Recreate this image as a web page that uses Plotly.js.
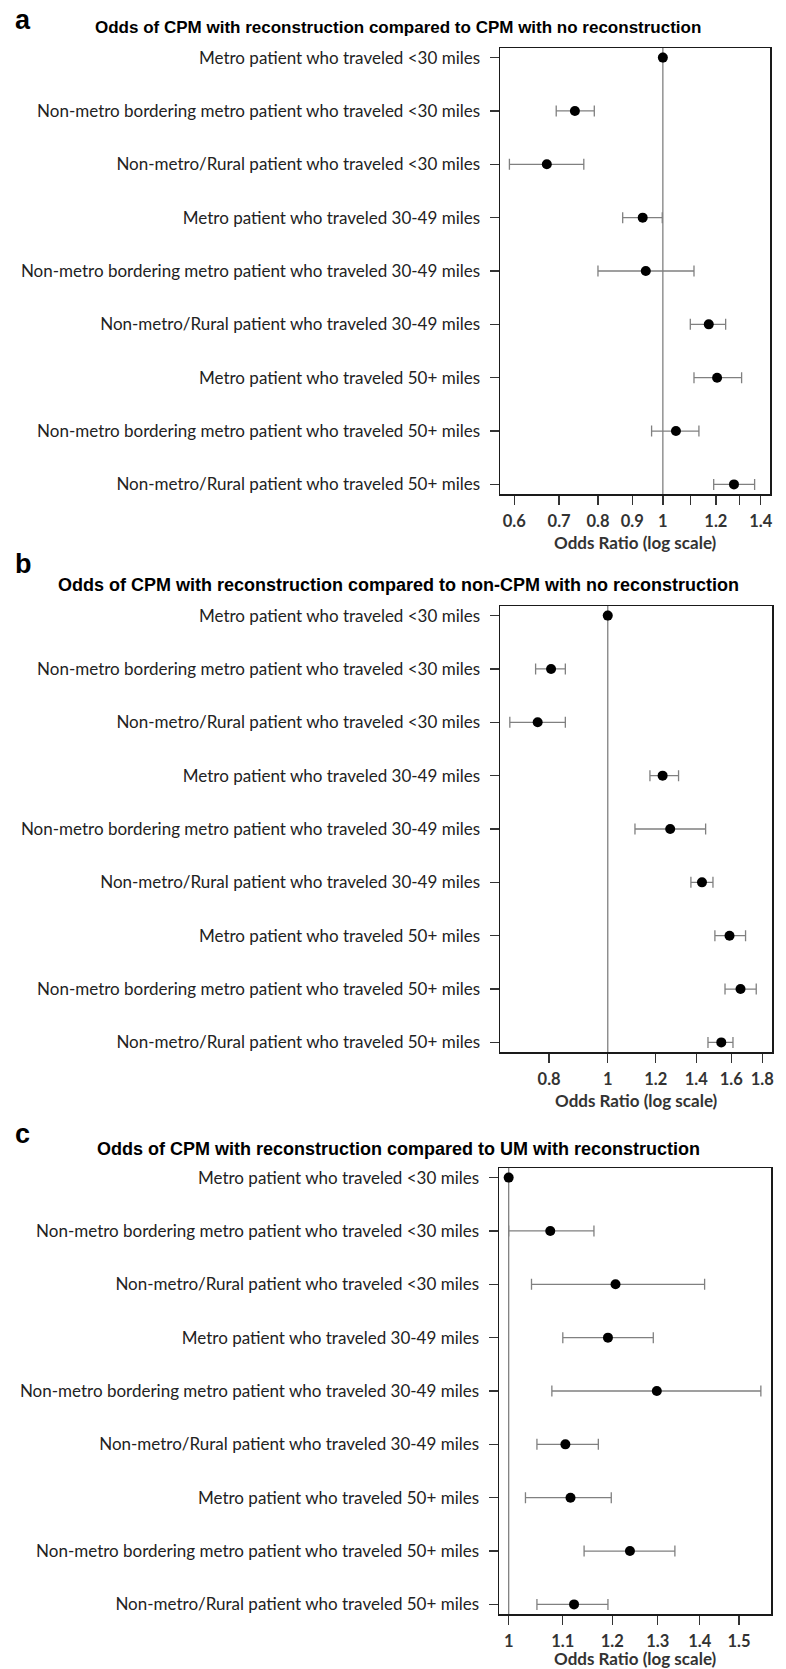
<!DOCTYPE html>
<html><head><meta charset="utf-8">
<script src="https://cdn.plot.ly/plotly-3.0.1.min.js"></script>
<style>html,body{margin:0;padding:0;background:#fff}</style>
</head><body><div id="chart" style="width:786px;height:1669px"></div>
<script>
const categories = [
  "Metro patient who traveled <30 miles",
  "Non-metro bordering metro patient who traveled <30 miles",
  "Non-metro/Rural patient who traveled <30 miles",
  "Metro patient who traveled 30-49 miles",
  "Non-metro bordering metro patient who traveled 30-49 miles",
  "Non-metro/Rural patient who traveled 30-49 miles",
  "Metro patient who traveled 50+ miles",
  "Non-metro bordering metro patient who traveled 50+ miles",
  "Non-metro/Rural patient who traveled 50+ miles"
];
const panelLetters = ["a", "b", "c"];
const panelTitles = [
  "Odds of CPM with reconstruction compared to CPM with no reconstruction",
  "Odds of CPM with reconstruction compared to non-CPM with no reconstruction",
  "Odds of CPM with reconstruction compared to UM with reconstruction"
];
const xAxisTitle = "Odds Ratio (log scale)";

// Panel a
const aOR    = [1.000, 0.739, 0.671, 0.933, 0.943, 1.171, 1.205, 1.046, 1.277];
const aLower = [1.000, 0.693, 0.590, 0.871, 0.800, 1.099, 1.113, 0.962, 1.191];
const aUpper = [1.000, 0.790, 0.762, 0.998, 1.113, 1.241, 1.311, 1.132, 1.371];
// Panel b
const bOR    = [1.000, 0.806, 0.766, 1.232, 1.268, 1.431, 1.589, 1.657, 1.540];
const bLower = [1.000, 0.760, 0.689, 1.174, 1.109, 1.372, 1.503, 1.562, 1.464];
const bUpper = [1.000, 0.851, 0.851, 1.309, 1.451, 1.492, 1.689, 1.759, 1.610];
// Panel c
const cOR    = [1.000, 1.076, 1.207, 1.191, 1.298, 1.105, 1.115, 1.238, 1.122];
const cLower = [1.000, 1.000, 1.041, 1.100, 1.079, 1.051, 1.030, 1.142, 1.051];
const cUpper = [1.000, 1.162, 1.412, 1.290, 1.559, 1.171, 1.198, 1.340, 1.191];

// tick values / labels
const aTickVals = [0.6, 0.7, 0.8, 0.9, 1, 1.1, 1.2, 1.3, 1.4];
const aTickText = ["0.6", "0.7", "0.8", "0.9", "1", "", "1.2", "", "1.4"];
const bTickVals = [0.8, 1, 1.2, 1.4, 1.6, 1.8];
const bTickText = ["0.8", "1", "1.2", "1.4", "1.6", "1.8"];
const cTickVals = [1, 1.1, 1.2, 1.3, 1.4, 1.5];
const cTickText = ["1", "1.1", "1.2", "1.3", "1.4", "1.5"];

const W = 786, H = 1669;
const px2x = p => p / W;
const px2y = p => 1 - p / H;

const panels = [
  {or: aOR, lo: aLower, hi: aUpper, tv: aTickVals, tt: aTickText, xr: [-0.2432, 0.1600],
   box: {l: 500, r: 770, t: 48, b: 494}, titleY: 27, titleSize: 17, letterY: 20, axTitleY: 542},
  {or: bOR, lo: bLower, hi: bUpper, tv: bTickVals, tt: bTickText, xr: [-0.178, 0.2713],
   box: {l: 500, r: 772, t: 606, b: 1052}, titleY: 585, titleSize: 18, letterY: 564, axTitleY: 1100},
  {or: cOR, lo: cLower, hi: cUpper, tv: cTickVals, tt: cTickText, xr: [-0.0074, 0.2006],
   box: {l: 499, r: 771, t: 1168, b: 1614}, titleY: 1149, titleSize: 18, letterY: 1134, axTitleY: 1658}
];

const labelFont = {family: "Lato, 'Open Sans', sans-serif", size: 17, color: "#222"};
const tickFont = {family: "Lato, 'Open Sans', sans-serif", size: 16.5, color: "#333", weight: 700};

const data = [];
const layout = {
  width: W, height: H,
  margin: {l: 0, r: 0, t: 0, b: 0},
  paper_bgcolor: "#fff", plot_bgcolor: "#fff",
  showlegend: false,
  shapes: [], annotations: []
};

panels.forEach((p, i) => {
  const n = i === 0 ? "" : String(i + 1);
  const xa = "x" + n, ya = "y" + n;
  data.push({
    type: "scatter", mode: "markers",
    x: p.or, y: categories,
    xaxis: xa, yaxis: ya,
    marker: {color: "#000", size: 10},
    error_x: {
      type: "data", symmetric: false,
      array: p.hi.map((h, k) => h - p.or[k]),
      arrayminus: p.lo.map((l, k) => p.or[k] - l),
      color: "#808080", thickness: 1.3, width: 5.5
    },
    hoverinfo: "skip", cliponaxis: false
  });
  layout["xaxis" + n] = {
    type: "log", range: p.xr,
    domain: [px2x(p.box.l), px2x(p.box.r)],
    anchor: ya,
    tickvals: p.tv, ticktext: p.tt,
    ticks: "outside", ticklen: 9, tickwidth: 1.3, tickcolor: "#333",
    ticklabelstandoff: 3,
    tickfont: tickFont,
    showgrid: false, zeroline: false,
    showline: true, mirror: true, linecolor: "#1a1a1a", linewidth: 1.5,
    fixedrange: true
  };
  layout["yaxis" + n] = {
    type: "category", categoryarray: categories, categoryorder: "array",
    range: [8.18, -0.18],
    domain: [px2y(p.box.b), px2y(p.box.t)],
    anchor: xa,
    ticks: "outside", ticklen: 9, tickwidth: 1.3, tickcolor: "#333",
    ticklabelstandoff: 6,
    tickfont: labelFont,
    showgrid: false, zeroline: false,
    showline: true, mirror: true, linecolor: "#1a1a1a", linewidth: 1.5,
    fixedrange: true
  };
  layout.shapes.push({
    type: "line", xref: xa, yref: ya + " domain",
    x0: 1, x1: 1, y0: 0, y1: 1,
    line: {color: "#808080", width: 1.3}, layer: "below"
  });
  layout.annotations.push({
    text: panelTitles[i], xref: "paper", yref: "paper",
    x: px2x(398), y: px2y(p.titleY), xanchor: "center", yanchor: "middle",
    showarrow: false,
    font: {family: "'Liberation Sans', Arial, sans-serif", size: p.titleSize, color: "#000", weight: 700}
  });
  layout.annotations.push({
    text: panelLetters[i], xref: "paper", yref: "paper",
    x: px2x(13), y: px2y(p.letterY), xanchor: "left", yanchor: "middle",
    showarrow: false,
    font: {family: "'Liberation Sans', Arial, sans-serif", size: 27, color: "#000", weight: 700}
  });
  layout.annotations.push({
    text: xAxisTitle, xref: "paper", yref: "paper",
    x: px2x((p.box.l + p.box.r) / 2), y: px2y(p.axTitleY), xanchor: "center", yanchor: "middle",
    showarrow: false,
    font: {family: "Lato, 'Open Sans', sans-serif", size: 17, color: "#333", weight: 700}
  });
});

Plotly.newPlot("chart", data, layout, {displayModeBar: false, staticPlot: true});
</script>
</body></html>
